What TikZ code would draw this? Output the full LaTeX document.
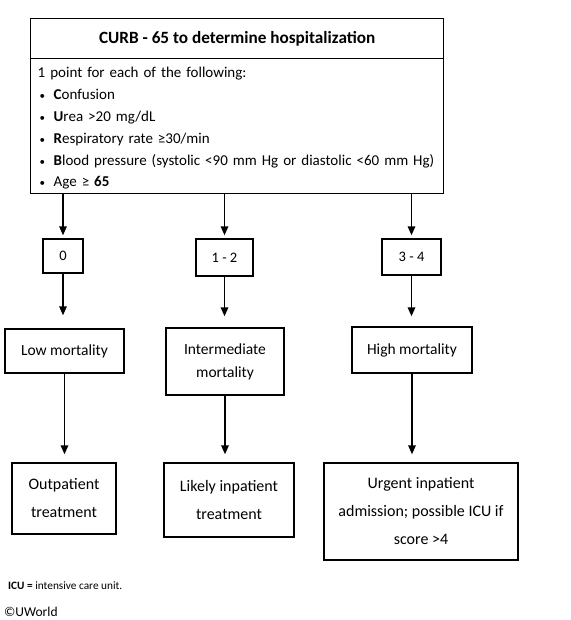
\documentclass[tikz,border=0pt]{standalone}
\usepackage{fontspec}
\setmainfont{Carlito}
\usetikzlibrary{arrows.meta,positioning}

\newcommand{\critbullet}{\hspace*{2pt}\makebox[14pt][l]{\fontsize{11}{11}\selectfont•}}

\begin{document}
\begin{tikzpicture}[x=1pt, y=-1pt,
  box/.style={
    draw, line width=1.4pt, align=center,
    font=\fontsize{15.5}{22}\selectfont, inner sep=2pt
  },
  scorebox/.style={box, font=\fontsize{14.5}{17}\selectfont},
  arr/.style={-{Triangle[length=9pt,width=7.5pt]}, line width=1.6pt},
]
\useasboundingbox (0,0) rectangle (570,620);

% header and criteria
\node[box, anchor=north west, minimum width=413pt, minimum height=40pt,
  font=\fontsize{17.2}{18}\selectfont\bfseries] (title) at (30,18)
  {CURB - 65 to determine hospitalization};
\node[box, anchor=north west, minimum width=413pt, minimum height=135pt,
  text width=399pt, align=left, inner xsep=7pt,
  font=\fontsize{15}{21.8}\selectfont] (crit) at (30,58)
  {\rule{0pt}{15pt}1 point for each of the following:\\
   \critbullet\textbf{C}onfusion\\
   \critbullet\textbf{U}rea >20 mg/dL\\
   \critbullet\textbf{R}espiratory rate ≥30/min\\
   \critbullet\textbf{B}lood pressure (systolic <90 mm Hg or diastolic <60 mm Hg)\\
   \critbullet Age ≥ \textbf{65}};

% scores
\node[scorebox, minimum width=40pt, minimum height=34pt] (s0)  at (63,256)    {0};
\node[scorebox, minimum width=57pt, minimum height=37pt] (s12) at (224.5,257.5) {1 - 2};
\node[scorebox, minimum width=59pt, minimum height=36pt] (s34) at (411.5,257)   {3 - 4};

% mortality
\node[box, minimum width=119pt, minimum height=44pt] (low)  at (64.5,351)  {Low mortality};
\node[box, minimum width=118pt, minimum height=67pt,
  font=\fontsize{15.5}{23}\selectfont] (mid)  at (225,361.5) {Intermediate\\mortality};
\node[box, minimum width=120pt, minimum height=46pt] (high) at (412,350)   {High mortality};

% management
\node[box, minimum width=104pt, minimum height=71pt,
  font=\fontsize{16}{28}\selectfont] (outpt)  at (64,498.5) {Outpatient\\treatment};
\node[box, minimum width=130pt, minimum height=74pt,
  font=\fontsize{16}{28}\selectfont] (inpt)   at (229,500)  {Likely inpatient\\treatment};
\node[box, minimum width=194pt, minimum height=97pt,
  font=\fontsize{16}{28}\selectfont] (urgent) at (421,511.5)
  {Urgent inpatient\\admission; possible ICU if\\score >4};

\draw[arr, shorten >=3pt] (crit.south -| s0.north)  -- (s0.north);
\draw[arr, shorten >=3pt] (crit.south -| s12.north) -- (s12.north);
\draw[arr, shorten >=3pt] (crit.south -| s34.north) -- (s34.north);

\draw[arr, shorten >=13pt] (s0.south)  -- (s0.south |- low.north);
\draw[arr, shorten >=11pt] (s12.south) -- (s12.south |- mid.north);
\draw[arr, shorten >=10pt] (s34.south) -- (s34.south |- high.north);

\draw[arr, shorten >=8pt] (low.south)  -- (low.south |- outpt.north);
\draw[arr, shorten >=8pt] (mid.south)  -- (mid.south |- inpt.north);
\draw[arr, shorten >=8pt] (high.south) -- (high.south |- urgent.north);

% footnotes
\node[anchor=west, inner sep=0pt, font=\fontsize{11.3}{12}\selectfont] (abbr) at (8,586)
  {\textbf{ICU =} intensive care unit.};
\node[anchor=west, inner sep=0pt, font=\fontsize{13.5}{14}\selectfont] (copy) at (4,612)
  {©UWorld};
\end{tikzpicture}
\end{document}
